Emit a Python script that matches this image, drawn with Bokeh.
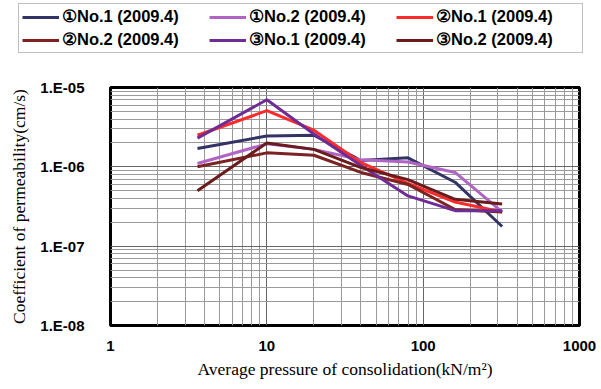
from bokeh.plotting import figure
from bokeh.models import FixedTicker, CustomJSTickFormatter, Legend, LegendItem, Range1d
from bokeh.layouts import column, row
from bokeh.embed import file_html
from bokeh.resources import INLINE

pressure = [3.6, 10, 20, 40, 80, 160, 320]
series_names = ["①No.1 (2009.4)", "①No.2 (2009.4)", "②No.1 (2009.4)",
                "②No.2 (2009.4)", "③No.1 (2009.4)", "③No.2 (2009.4)"]
s1_no1 = [1.7e-6, 2.45e-6, 2.5e-6, 1.2e-6, 1.3e-6, 6.4e-7, 1.77e-7]
s1_no2 = [1.1e-6, 1.95e-6, 1.66e-6, 1.23e-6, 1.15e-6, 8.5e-7, 2.7e-7]
s2_no1 = [2.5e-6, 5.1e-6, 2.9e-6, 1.13e-6, 6.2e-7, 3.6e-7, 2.7e-7]
s2_no2 = [1.0e-6, 1.5e-6, 1.4e-6, 8.5e-7, 6.0e-7, 2.9e-7, 2.7e-7]
s3_no1 = [2.3e-6, 7.0e-6, 2.6e-6, 1.04e-6, 4.3e-7, 2.8e-7, 2.8e-7]
s3_no2 = [5.0e-7, 2.0e-6, 1.66e-6, 9.8e-7, 6.9e-7, 3.9e-7, 3.4e-7]
all_series = [s1_no1, s1_no2, s2_no1, s2_no2, s3_no1, s3_no2]
colors = ["#333366", "#b065c4", "#ff2a2a", "#7b2222", "#6e2c94", "#6a1c1c"]

x_major = [1, 10, 100, 1000]
x_minor = [m * d for d in (1, 10, 100) for m in range(2, 10)]
y_major = [1e-8, 1e-7, 1e-6, 1e-5]
y_minor = [m * d for d in (1e-8, 1e-7, 1e-6) for m in range(2, 10)]

LEG_H = 58
LEFT = 110

# ---- legend strip (its data lies outside its own view; only the legend shows) ----
lf = figure(width=601, height=LEG_H, output_backend="svg", toolbar_location=None,
            x_axis_location=None, y_axis_location=None,
            x_range=Range1d(-2, -1), y_range=Range1d(-2, -1),
            min_border_left=0, min_border_right=0, min_border_top=0, min_border_bottom=0)
lf.outline_line_color = None
lf.xgrid.visible = False
lf.ygrid.visible = False
leg_items = []
for name, vals, col in zip(series_names, all_series, colors):
    r = lf.line(pressure, vals, line_color=col, line_width=3)
    leg_items.append(LegendItem(label=name, renderers=[r]))
legend = Legend(items=leg_items, location=(18, 5), orientation="horizontal", ncols=3)
legend.label_text_font = "Liberation Sans"
legend.label_text_font_style = "bold"
legend.label_text_font_size = "16.5px"
legend.label_text_color = "black"
legend.glyph_width = 37
legend.label_standoff = 3
legend.label_width = 143
legend.spacing = 4
legend.padding = 3
legend.margin = 0
legend.label_height = 18
legend.glyph_height = 18
legend.border_line_color = "#808080"
legend.border_line_width = 1
legend.background_fill_color = "white"
legend.background_fill_alpha = 1
lf.add_layout(legend, "center")

# ---- main chart ----
p = figure(width=601, height=389 - LEG_H, x_axis_type="log", y_axis_type="log",
           x_range=Range1d(1, 1000), y_range=Range1d(1e-8, 1e-5),
           output_backend="svg", toolbar_location=None,
           min_border_left=LEFT, min_border_right=22, min_border_top=87 - LEG_H, min_border_bottom=64)

p.outline_line_color = "black"
p.outline_line_width = 3
p.background_fill_color = "white"
p.border_fill_color = "white"

p.xaxis.ticker = FixedTicker(ticks=x_major, minor_ticks=x_minor)
p.yaxis.ticker = FixedTicker(ticks=y_major, minor_ticks=y_minor)
p.yaxis.formatter = CustomJSTickFormatter(code="""
const e = Math.round(Math.log10(tick));
return "1.E-" + String(-e).padStart(2, "0");
""")
p.xaxis.formatter = CustomJSTickFormatter(code="return String(Math.round(tick));")

for ax in (p.xaxis, p.yaxis):
    ax.axis_line_color = None
    ax.major_tick_line_color = None
    ax.minor_tick_line_color = None
    ax.major_label_text_font = "Liberation Sans"
    ax.major_label_text_font_style = "bold"
    ax.major_label_text_font_size = "15px"
    ax.major_label_text_color = "black"
    ax.axis_label_text_font = "Liberation Serif"
    ax.axis_label_text_font_style = "normal"
    ax.axis_label_text_font_size = "17.5px"
    ax.axis_label_text_color = "black"

p.xaxis.major_label_standoff = 9
p.yaxis.major_label_standoff = 20
p.xaxis.axis_label = "Average pressure of consolidation(kN/m\u00b2)"
p.yaxis.axis_label = "Coefficient of permeability(cm/s)"
p.xaxis.axis_label_standoff = 5
p.yaxis.axis_label_standoff = 8

p.xgrid.grid_line_color = "#666666"
p.ygrid.grid_line_color = "#666666"
p.xgrid.minor_grid_line_color = "#9a9a9a"
p.ygrid.minor_grid_line_color = "#9a9a9a"
p.xgrid.grid_line_width = 1
p.ygrid.grid_line_width = 1

for vals, col in zip(all_series, colors):
    p.line(pressure, vals, line_color=col, line_width=3)

layout = column(row(lf), p, spacing=0)
open("out.html", "w").write(file_html(layout, INLINE))
